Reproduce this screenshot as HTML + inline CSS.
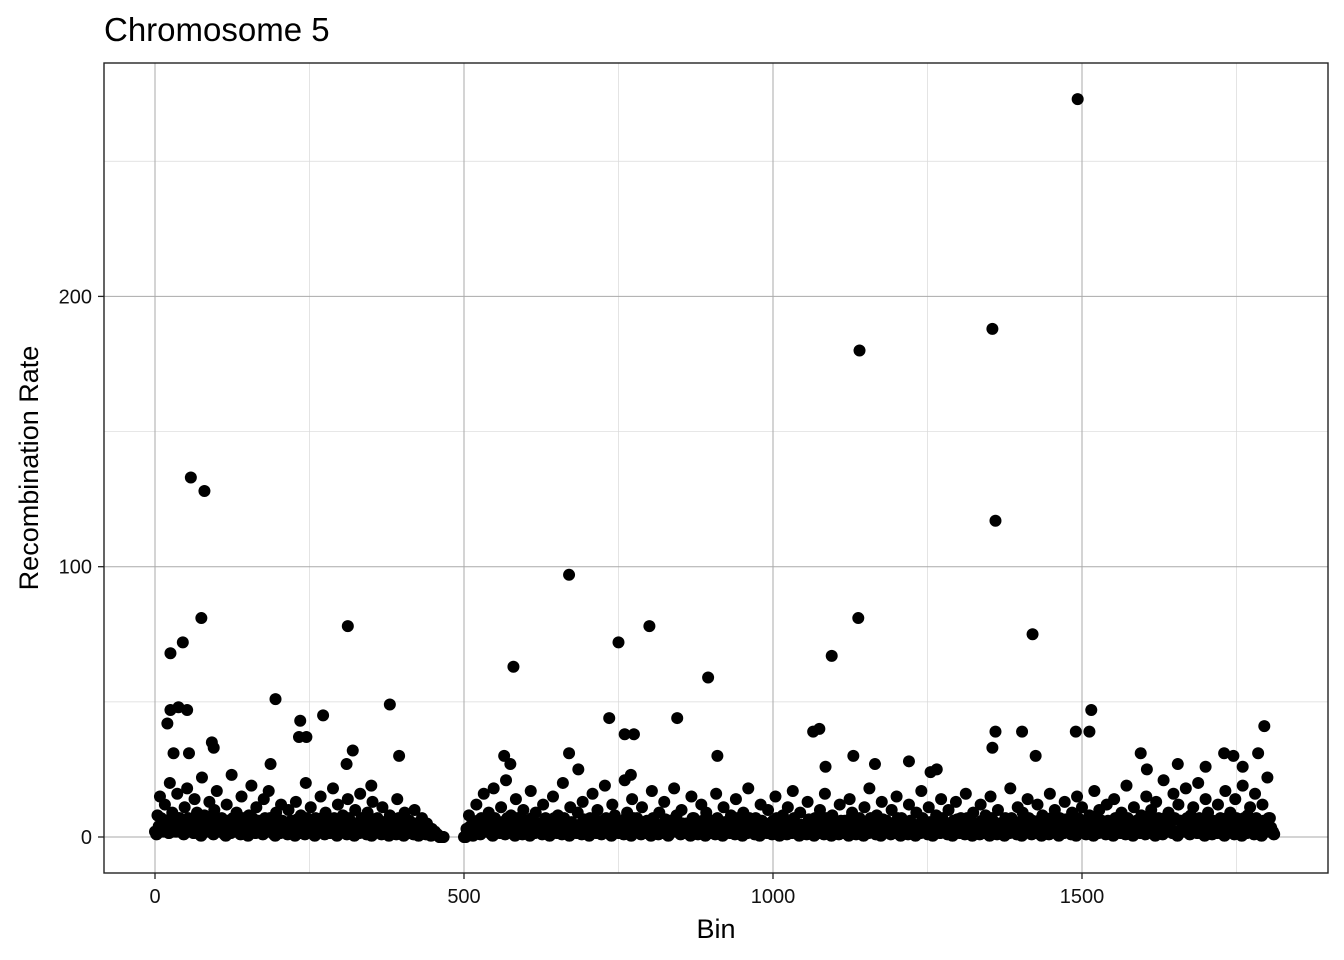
<!DOCTYPE html>
<html><head><meta charset="utf-8">
<style>
body{margin:0;background:#fff;}
svg{display:block;font-family:"Liberation Sans",sans-serif;}
</style></head>
<body>
<svg id="chart" width="1344" height="960" viewBox="0 0 1344 960" xmlns="http://www.w3.org/2000/svg">
<rect width="1344" height="960" fill="#fff"/>
<text x="104" y="41" font-size="33" fill="#000">Chromosome 5</text>
<g id="grid"></g>
<g id="points"></g>
<rect x="104" y="63" width="1224" height="810" fill="none" stroke="#222" stroke-width="1.4"/>
<g id="axes"></g>
<text x="716" y="938" font-size="27" text-anchor="middle" fill="#000">Bin</text>
<text transform="translate(38,468) rotate(-90)" font-size="27" text-anchor="middle" fill="#000">Recombination Rate</text>
</svg>
<script>
const xTicks = [0, 500, 1000, 1500];
const xMinor = [250, 750, 1250, 1750];
const yTicks = [0, 100, 200];
const yMinor = [50, 150, 250];
const outlierBins = [58,80,75,45,25,20,25,38,52,30,55,92,95,312,380,195,235,233,245,272,395,320,670,580,565,750,800,735,760,775,845,895,910,670,1140,1138,1095,1355,1360,1420,1360,1355,1403,1425,1493,1490,1515,1512,1065,1075,1130,1220,1595,1795,1785,1745,1730,187,310,350,575,685,770,1085,1165,1255,1265,1605,1655,1700,1760];
const outlierRates = [133,128,81,72,68,42,47,48,47,31,31,35,33,78,49,51,43,37,37,45,30,32,97,63,30,72,78,44,38,38,44,59,30,31,180,81,67,188,117,75,39,33,39,30,273,39,47,39,39,40,30,28,31,41,31,30,31,27,27,19,27,25,23,26,27,24,25,25,27,26,26];
const band1Start = 0;
const band1Rates = [2,8,15,5,12,3,20,9,4,16,7,2,11,18,6,3,14,9,1,22,8,5,13,2,10,17,4,7,1,12,3,23,6,9,2,15,5,1,8,19,3,11,6,2,14,4,17,7,1,9,3,12,5,2,10,6,1,13,3,8,2,20,5,11,1,7,4,15,2,9,3,6,18,1,12,4,8,2,14,5,1,10,3,16,6,2,9,1,13,4,7,2,11,3,1,8,5,2,14,4,1,9,3,6,2,10,1,4,7,2,5,1,3,2,1,0,0];
const band2Start = 500;
const band2Rates = [0,3,8,1,5,12,2,7,16,4,9,1,18,6,3,11,2,21,5,8,1,14,4,2,10,6,1,17,3,9,5,2,12,7,1,4,15,3,8,2,20,6,1,11,4,3,9,2,13,5,1,7,16,3,10,2,6,19,4,1,12,8,3,5,2,21,9,1,14,4,7,2,11,3,6,1,17,5,2,9,3,13,1,6,4,18,8,2,10,3,5,1,15,7,2,4,12,1,9,3,6,2,16,4,1,11,5,3,8,2,14,6,1,9,3,18,4,2,7,1,12,5,3,10,2,6,15,1,4,8,2,11,3,17,5,1,9,4,2,13,6,1,7,3,10,2,16,4,1,8,5,2,12,3,6,1,14,9,2,4,7,1,11,3,18,5,2,8,1,13,4,6,2,10,3,15,1,7,5,2,12,4,1,9,3,17,6,2,11,1,4,8,3,14,5,2,10,1,6,13,3,7,2,16,4,1,9,5,2,12,3,8,1,15,6,2,10,4,1,7,3,18,5,2,11,1,9,4,14,2,6,3,12,1,8,5,2,16,4,10,1,7,3,13,6,2,9,1,15,4,11,2,5,8,1,17,3,10,6,2,12,4,1,14,7,3,9,2,19,5,1,11,6,3,8,2,15,4,10,1,13,7,2,21,5,9,3,16,1,12,6,4,18,2,8,11,3,20,5,1,14,9,2,6,3,12,7,1,17,4,9,2,14,6,1,19,3,8,11,2,16,5,1,12,4,22,7,2];
const X0 = 155, XS = 0.618, Y0 = 837, YS = 2.703;
const xScale = v => X0 + v * XS;
const yScale = v => Y0 - v * YS;
const NS = "http://www.w3.org/2000/svg";
const grid = document.getElementById('grid');
const axes = document.getElementById('axes');
const pts = document.getElementById('points');
function mk(tag, attrs, parent){const e=document.createElementNS(NS,tag);for(const k in attrs)e.setAttribute(k,attrs[k]);parent.appendChild(e);return e;}
xMinor.forEach(v=>{const l=mk('line',{x1:xScale(v),x2:xScale(v),y1:63,y2:873,stroke:'#d9d9d9','stroke-width':0.7},grid);

});
yMinor.forEach(v=>{const l=mk('line',{x1:104,x2:1328,y1:yScale(v),y2:yScale(v),stroke:'#d9d9d9','stroke-width':0.7},grid);

});
xTicks.forEach(v=>{const x=xScale(v);
const l=mk('line',{x1:x,x2:x,y1:63,y2:873,stroke:'#aaaaaa','stroke-width':1},grid);


const t=mk('line',{x1:x,x2:x,y1:873,y2:879,stroke:'#222','stroke-width':1.3},axes);


const tx=mk('text',{x:x,y:903,'font-size':20,'text-anchor':'middle',fill:'#111'},axes);tx.textContent=v;

});
yTicks.forEach(v=>{const y=yScale(v);
const l=mk('line',{x1:104,x2:1328,y1:y,y2:y,stroke:'#aaaaaa','stroke-width':1},grid);


const t=mk('line',{x1:98,x2:104,y1:y,y2:y,stroke:'#222','stroke-width':1.3},axes);


const tx=mk('text',{x:92,y:y+7,'font-size':20,'text-anchor':'end',fill:'#111'},axes);tx.textContent=v;

});
function dot(b,r){const c=mk('circle',{cx:xScale(b),cy:yScale(r),r:6,fill:'#000'},pts);

}
function band(start, arr){arr.forEach((r,i)=>{const b=start+i*4;dot(b,r);dot(b+1,Math.min(r,2));dot(b+2,Math.min(r*0.5,7));dot(b+3,Math.min(r,4)*0.5);});}
band(band1Start, band1Rates);
band(band2Start, band2Rates);
outlierBins.forEach((b,i)=>dot(b,outlierRates[i]));
</script>
</body></html>
